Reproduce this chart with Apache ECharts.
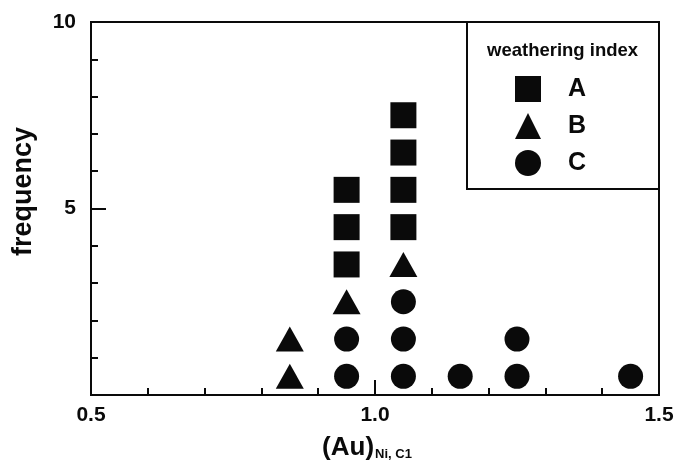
<!DOCTYPE html>
<html>
<head>
<meta charset="utf-8">
<script src="https://cdn.jsdelivr.net/npm/echarts@6/dist/echarts.min.js"></script>
<style>
  html, body { margin: 0; padding: 0; background: #fff; }
  #chart { width: 676px; height: 473px; }
</style>
</head>
<body>
<div id="chart"></div>
<script>
// Frequency of samples by (Au)Ni,C1 value, stacked by weathering index
const weatheringA_x = [0.95, 0.95, 0.95, 1.05, 1.05, 1.05, 1.05];
const weatheringA_y = [3.5, 4.5, 5.5, 4.5, 5.5, 6.5, 7.5];
const weatheringB_x = [0.85, 0.85, 0.95, 1.05];
const weatheringB_y = [0.5, 1.5, 2.5, 3.5];
const weatheringC_x = [0.95, 0.95, 1.05, 1.05, 1.05, 1.15, 1.25, 1.25, 1.45];
const weatheringC_y = [0.5, 1.5, 0.5, 1.5, 2.5, 0.5, 0.5, 1.5, 0.5];
const seriesNames = ['A', 'B', 'C'];
const xTicks = [0.5, 1.0, 1.5];
const yTicks = [5, 10];

const INK = '#0a0a0a';
const FONT = "'Liberation Sans', Arial, sans-serif";

function pairs(xs, ys) { return xs.map((x, i) => [x, ys[i]]); }

const chart = echarts.init(document.getElementById('chart'), null, { renderer: 'canvas' });

chart.setOption({
  backgroundColor: '#fff',
  animation: false,
  grid: {
    left: 91, right: 17, top: 22, bottom: 78,
    containLabel: false, outerBoundsMode: 'none',
    show: true, borderColor: INK, borderWidth: 2, backgroundColor: 'transparent'
  },
  xAxis: {
    type: 'value', min: 0.5, max: 1.5, interval: 0.5,
    axisLine: { lineStyle: { color: INK, width: 2 } },
    axisTick: { inside: true, length: 15, lineStyle: { color: INK, width: 2 } },
    minorTick: { show: true, splitNumber: 5, length: 7, lineStyle: { color: INK, width: 2 } },
    splitLine: { show: false },
    axisLabel: {
      color: INK, fontFamily: FONT, fontWeight: 'bold', fontSize: 21, margin: 10,
      formatter: v => xTicks.some(t => Math.abs(t - v) < 1e-9) ? v.toFixed(1) : ''
    },
    name: '{a|(Au)}{b|Ni, C1}',
    nameLocation: 'middle', nameGap: 40,
    nameTextStyle: {
      padding: [0, 16, 0, 0],
      rich: {
        a: { fontFamily: FONT, fontWeight: 'bold', fontSize: 26, color: INK },
        b: { fontFamily: FONT, fontWeight: 'bold', fontSize: 13, color: INK, padding: [12, 0, 0, 1] }
      }
    }
  },
  yAxis: {
    type: 'value', min: 0, max: 10, interval: 5,
    axisLine: { lineStyle: { color: INK, width: 2 } },
    axisTick: { inside: true, length: 15, lineStyle: { color: INK, width: 2 } },
    minorTick: { show: true, splitNumber: 5, length: 7, lineStyle: { color: INK, width: 2 } },
    splitLine: { show: false },
    axisLabel: {
      color: INK, fontFamily: FONT, fontWeight: 'bold', fontSize: 21, margin: 15,
      formatter: v => yTicks.indexOf(v) >= 0 ? String(v) : ''
    },
    name: 'frequency',
    nameLocation: 'middle', nameGap: 54,
    nameTextStyle: { fontFamily: FONT, fontWeight: 'bold', fontSize: 27, color: INK, padding: [0, 0, 0, 34] }
  },
  legend: {
    orient: 'vertical', left: 510, top: 71,
    itemWidth: 26, itemHeight: 26, itemGap: 11,
    data: [
      { name: seriesNames[0], icon: 'rect' },
      { name: seriesNames[1], icon: 'triangle' },
      { name: seriesNames[2], icon: 'circle' }
    ],
    itemStyle: { color: INK, opacity: 1 },
    textStyle: { color: INK, fontFamily: FONT, fontWeight: 'bold', fontSize: 25, padding: [0, 0, 0, 22] },
    selectedMode: false
  },
  graphic: [
    {
      type: 'rect', z: 1,
      shape: { x: 467, y: 22, width: 192, height: 167 },
      style: { fill: '#fff', stroke: INK, lineWidth: 2 }
    },
    {
      type: 'text', z: 2, left: 487, top: 41,
      style: { text: 'weathering index', fill: INK, font: "bold 18.5px " + FONT }
    }
  ],
  series: [
    {
      name: seriesNames[0], type: 'scatter', symbol: 'rect', symbolSize: 26,
      itemStyle: { color: INK, opacity: 1 }, data: pairs(weatheringA_x, weatheringA_y)
    },
    {
      name: seriesNames[1], type: 'scatter', symbol: 'triangle', symbolSize: [28, 25],
      itemStyle: { color: INK, opacity: 1 }, data: pairs(weatheringB_x, weatheringB_y)
    },
    {
      name: seriesNames[2], type: 'scatter', symbol: 'circle', symbolSize: 25,
      itemStyle: { color: INK, opacity: 1 }, data: pairs(weatheringC_x, weatheringC_y)
    }
  ]
});
</script>
</body>
</html>
